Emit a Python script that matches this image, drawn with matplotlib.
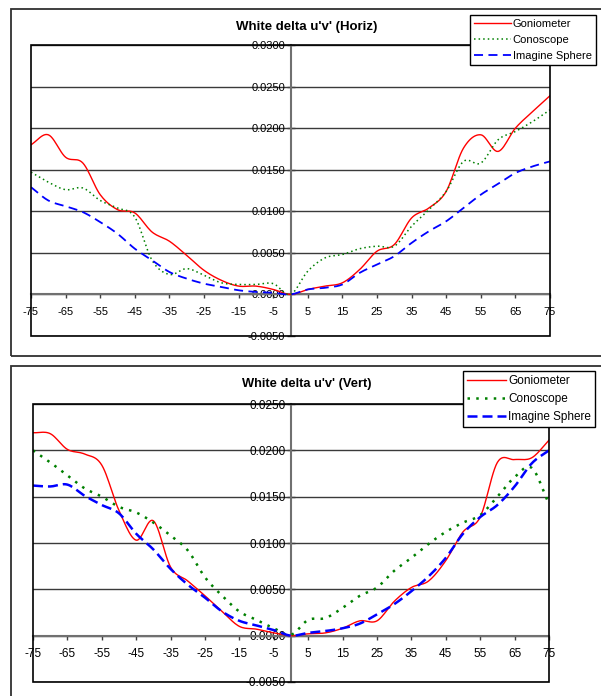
import numpy as np
import matplotlib
matplotlib.use("Agg")
import matplotlib.pyplot as plt
from matplotlib.patches import Rectangle
from matplotlib.ticker import FormatStrFormatter, MultipleLocator

plt.rcParams['font.family'] = ['Liberation Sans', 'DejaVu Sans']
plt.rcParams['axes.unicode_minus'] = False

# ---------------- data ----------------
angles = [-75, -70, -65, -60, -55, -50, -45, -40, -35, -30, -25, -20, -15, -10, -5, 0,
          5, 10, 15, 20, 25, 30, 35, 40, 45, 50, 55, 60, 65, 70, 75]

horiz_gonio = [0.0180, 0.0192, 0.0165, 0.0158, 0.0120, 0.0102, 0.0098, 0.0075, 0.0064, 0.0047,
               0.0029, 0.0017, 0.0010, 0.0010, 0.0006, 0.0000,
               0.0006, 0.0010, 0.0014, 0.0030, 0.0052, 0.0060, 0.0092, 0.0104, 0.0124, 0.0176,
               0.0192, 0.0172, 0.0200, 0.0220, 0.0239]
horiz_cono = [0.0147, 0.0135, 0.0126, 0.0128, 0.0113, 0.0104, 0.0093, 0.0041, 0.0024, 0.0031,
              0.0023, 0.0014, 0.0012, 0.0012, 0.0013, 0.0000,
              0.0028, 0.0044, 0.0048, 0.0055, 0.0058, 0.0058, 0.0082, 0.0102, 0.0124, 0.0160,
              0.0158, 0.0186, 0.0196, 0.0208, 0.0222]
horiz_sphere = [0.0129, 0.0113, 0.0106, 0.0099, 0.0087, 0.0073, 0.0055, 0.0041, 0.0027, 0.0019,
                0.0013, 0.0009, 0.0005, 0.0003, 0.0002, 0.0000,
                0.0006, 0.0008, 0.0012, 0.0026, 0.0036, 0.0046, 0.0062, 0.0076, 0.0088, 0.0104,
                0.0120, 0.0133, 0.0146, 0.0154, 0.0160]

vert_gonio = [0.0219, 0.0218, 0.0201, 0.0196, 0.0184, 0.0135, 0.0103, 0.0124, 0.0074, 0.0059,
              0.0043, 0.0026, 0.0010, 0.0007, 0.0003, 0.0000,
              0.0002, 0.0003, 0.0008, 0.0016, 0.0016, 0.0037, 0.0052, 0.0059, 0.0081, 0.0112,
              0.0128, 0.0187, 0.0190, 0.0192, 0.0211]
vert_cono = [0.0200, 0.0187, 0.0173, 0.0159, 0.0150, 0.0139, 0.0133, 0.0122, 0.0108, 0.0092,
             0.0063, 0.0043, 0.0026, 0.0017, 0.0008, 0.0001,
             0.0017, 0.0019, 0.0030, 0.0043, 0.0052, 0.0070, 0.0084, 0.0099, 0.0112, 0.0122,
             0.0130, 0.0150, 0.0171, 0.0181, 0.0142]
vert_sphere = [0.0162, 0.0161, 0.0163, 0.0151, 0.0141, 0.0132, 0.0110, 0.0093, 0.0072, 0.0055,
               0.0041, 0.0026, 0.0016, 0.0011, 0.0006, 0.0000,
               0.0003, 0.0005, 0.0008, 0.0013, 0.0023, 0.0034, 0.0048, 0.0064, 0.0084, 0.0110,
               0.0128, 0.0141, 0.0161, 0.0186, 0.0200]

series_names = ["Goniometer", "Conoscope", "Imagine Sphere"]
x_ticks = list(range(-75, 76, 10))
titles = ["White delta u'v' (Horiz)", "White delta u'v' (Vert)"]


def smooth(x, y, n=12):
    """Excel-like smoothed line rendering (Catmull-Rom through the data points)."""
    x = np.asarray(x, float)
    y = np.asarray(y, float)
    px = np.concatenate([[2 * x[0] - x[1]], x, [2 * x[-1] - x[-2]]])
    py = np.concatenate([[2 * y[0] - y[1]], y, [2 * y[-1] - y[-2]]])
    xs, ys = [], []
    t = np.linspace(0, 1, n, endpoint=False)
    for i in range(1, len(px) - 2):
        for arr, out in ((px, xs), (py, ys)):
            p0, p1, p2, p3 = arr[i - 1], arr[i], arr[i + 1], arr[i + 2]
            out.extend(0.5 * ((2 * p1) + (-p0 + p2) * t + (2 * p0 - 5 * p1 + 4 * p2 - p3) * t ** 2
                              + (-p0 + 3 * p1 - 3 * p2 + p3) * t ** 3))
    xs.append(x[-1])
    ys.append(y[-1])
    return np.array(xs), np.array(ys)


W, H = 601, 696
fig = plt.figure(figsize=(W / 100, H / 100), dpi=100)

# outer chart boxes
fig.add_artist(Rectangle((11 / W, 1 - 356 / H), 600 / W, 347 / H, transform=fig.transFigure,
                         fill=False, edgecolor='#303030', lw=1.3))
fig.add_artist(Rectangle((11 / W, -0.05), 600 / W, 1 - 366 / H + 0.05, transform=fig.transFigure,
                         fill=False, edgecolor='#303030', lw=1.3))


def make_chart(rect, data, ymin, ymax, title, title_y, fs, tfs, styles, leg_anchor, leg_spacing):
    ax = fig.add_axes(rect)
    ax.set_xlim(-75, 75)
    ax.set_ylim(ymin, ymax)
    for yv in np.arange(ymin, ymax + 1e-9, 0.005):
        ax.axhline(yv, color='#3a3a3a', lw=1.0, zorder=1)
    for vals, name, st in zip(data, series_names, styles):
        sx, sy = smooth(angles, vals)
        ax.plot(sx, sy, label=name, zorder=3, **st)
    # axes crossing at zero
    ax.spines['left'].set_position(('data', 0))
    ax.spines['bottom'].set_position(('data', 0))
    ax.spines['left'].set_color('#707070')
    ax.spines['bottom'].set_color('#707070')
    ax.spines['left'].set_linewidth(1.5)
    ax.spines['bottom'].set_linewidth(1.5)
    ax.spines['right'].set_visible(False)
    ax.spines['top'].set_visible(False)
    ax.add_patch(Rectangle((0, 0), 1, 1, transform=ax.transAxes, fill=False,
                           edgecolor='black', lw=1.2, clip_on=False, zorder=4))
    ax.set_xticks(x_ticks)
    ax.yaxis.set_major_locator(MultipleLocator(0.005))
    ax.yaxis.set_major_formatter(FormatStrFormatter('%.4f'))
    ax.tick_params(axis='y', direction='inout', length=6, width=1, color='#404040',
                   labelsize=fs, pad=1)
    ax.tick_params(axis='x', direction='out', length=3, width=1, color='#404040',
                   labelsize=fs, pad=6)
    for lab in ax.get_yticklabels() + ax.get_xticklabels():
        lab.set_zorder(5)
    fig.text(307 / W, 1 - title_y / H, title, ha='center', va='center',
             fontsize=tfs, fontweight='bold')
    leg = ax.legend(loc='upper left', bbox_to_anchor=leg_anchor, bbox_transform=fig.transFigure,
                    borderaxespad=0, fontsize=fs, frameon=True, fancybox=False,
                    edgecolor='black', framealpha=1, handlelength=3.3, handletextpad=0.2,
                    labelspacing=leg_spacing, borderpad=0.35)
    leg.get_frame().set_linewidth(1.0)
    leg.set_zorder(10)
    return ax


top_styles = [dict(color='#FF0000', lw=1.0),
              dict(color='#008000', lw=1.1, linestyle=(0, (1, 2))),
              dict(color='#0000FF', lw=1.3, linestyle=(0, (5, 3)))]
bot_styles = [dict(color='#FF0000', lw=1.0),
              dict(color='#008000', lw=1.8, linestyle=(0, (1, 2.5))),
              dict(color='#0000FF', lw=1.8, linestyle=(0, (4, 2)))]

make_chart([31 / W, 1 - 336 / H, 519 / W, 291 / H],
           [horiz_gonio, horiz_cono, horiz_sphere], -0.005, 0.030, titles[0], 27, 8, 9.5,
           top_styles, (470 / W, 1 - 15 / H), 0.55)
make_chart([33 / W, 1 - 682 / H, 516 / W, 278 / H],
           [vert_gonio, vert_cono, vert_sphere], -0.005, 0.025, titles[1], 384, 8.5, 9.3,
           bot_styles, (463 / W, 1 - 371 / H), 0.5)

fig.savefig("out.png", dpi=100)
